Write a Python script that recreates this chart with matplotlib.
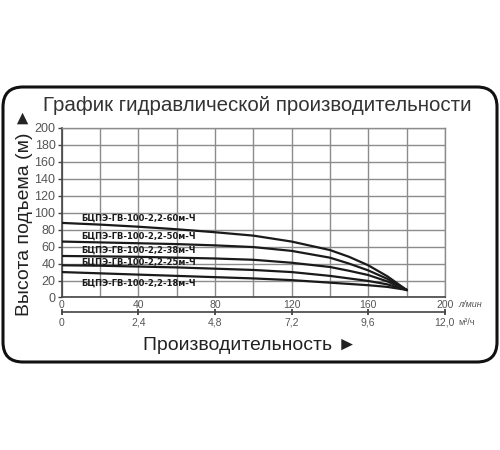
import matplotlib
matplotlib.use("Agg")
import matplotlib.pyplot as plt
from matplotlib import font_manager
from matplotlib.patches import FancyBboxPatch

# данные (л/мин -> м)
flow = [0, 20, 40, 60, 80, 100, 120, 140, 150, 160, 170, 180]
head_60 = [88, 86, 83.5, 80.5, 77, 73, 66, 56, 48, 38, 25, 9]
head_50 = [66, 65, 64, 63, 61.5, 59.5, 55, 47, 40, 32, 22, 9]
head_38 = [49, 48.5, 48, 47, 46, 44.5, 41, 36, 31.5, 26.5, 19, 9]
head_25 = [38, 37.5, 36.5, 35.5, 34, 32.5, 30, 25.5, 22.5, 19.5, 15.5, 9]
head_18 = [30, 28.5, 27, 25.5, 24, 22.5, 20.5, 17.5, 16, 14.5, 12.5, 9]
models = ["БЦПЭ-ГВ-100-2,2-60м-Ч", "БЦПЭ-ГВ-100-2,2-50м-Ч", "БЦПЭ-ГВ-100-2,2-38м-Ч",
          "БЦПЭ-ГВ-100-2,2-25м-Ч", "БЦПЭ-ГВ-100-2,2-18м-Ч"]
label_heads = [94, 73, 56, 42, 17]
label_flow = 10

flow_ticks = [0, 40, 80, 120, 160, 200]
m3h_ticks = [0, 2.4, 4.8, 7.2, 9.6, 12.0]
m3h_labels = ["0", "2,4", "4,8", "7,2", "9,6", "12,0"]

installed = {f.name for f in font_manager.fontManager.ttflist}
if "Liberation Sans Narrow" in installed:
    main_font = ["Liberation Sans Narrow", "DejaVu Sans"]
    k = 1.0
else:
    main_font = ["Liberation Sans", "DejaVu Sans"]
    k = 0.82

plt.rcParams["font.family"] = ["Liberation Sans", "DejaVu Sans"]

fig = plt.figure(figsize=(5, 4.5), dpi=100)
ax = fig.add_axes([0.1236, 0.3389, 0.766, 0.3767])

grid_col = "#8c8c8c"
for h in [head_60, head_50, head_38, head_25, head_18]:
    ax.plot(flow, h, color="#1a1a1a", lw=1.6, zorder=3, solid_joinstyle="round")

for name, y in zip(models, label_heads):
    ax.text(label_flow, y, name, fontsize=6, fontweight="bold", family="DejaVu Sans",
            color="#1a1a1a", va="center", ha="left", zorder=4)

ax.set_xlim(0, 200)
ax.set_ylim(0, 200)
ax.set_xticks(flow_ticks)
ax.set_xticks(range(0, 201, 20), minor=True)
ax.set_yticks(range(0, 201, 20))
ax.grid(True, which="both", color=grid_col, lw=1.0)
ax.tick_params(axis="x", which="both", length=0, pad=2, labelsize=7.5, labelcolor="#555555")
ax.tick_params(axis="y", length=3, width=1, color="#444444", pad=1.5, labelsize=9,
               labelcolor="#555555")
for side in ["top", "right"]:
    ax.spines[side].set_color(grid_col)
    ax.spines[side].set_linewidth(1.0)
for side in ["left", "bottom"]:
    ax.spines[side].set_color("#444444")
    ax.spines[side].set_linewidth(1.2)

ax.text(1.035, -0.04, "л/мин", transform=ax.transAxes, fontsize=6.5, style="italic",
        color="#555555", ha="left", va="center")

sec = ax.secondary_xaxis(-0.0855, functions=(lambda q: q * 0.06, lambda m: m / 0.06))
sec.set_xticks(m3h_ticks)
sec.set_xticklabels(m3h_labels)
sec.tick_params(direction="inout", length=4, width=1.3, color="#444444", pad=2,
                labelsize=7.5, labelcolor="#555555")
sec.spines["bottom"].set_color("#444444")
sec.spines["bottom"].set_linewidth(1.2)
ax.text(1.035, -0.145, "м³/ч", transform=ax.transAxes, fontsize=6.5,
        color="#555555", ha="left", va="center")

fig.text(0.514, 0.766, "График гидравлической производительности", family=main_font,
         fontsize=18 * k, color="#333333", ha="center", va="center")
fig.text(0.5, 0.233, "Производительность ►", family=main_font,
         fontsize=17 * k, color="#222222", ha="center", va="center")
# повернутый ► смотрит вверх, как ▲ в оригинале
fig.text(0.05, 0.53, "Высота подъема (м) ►", family=main_font, rotation=90,
         fontsize=17 * k, color="#222222", ha="center", va="center")

frame = FancyBboxPatch((0.03, 0.88), 4.94, 2.75, boxstyle="round,pad=0,rounding_size=0.2",
                       transform=fig.dpi_scale_trans, fill=False, ec="#111111", lw=2.2)
fig.patches.append(frame)

fig.savefig("out.png", dpi=100)
